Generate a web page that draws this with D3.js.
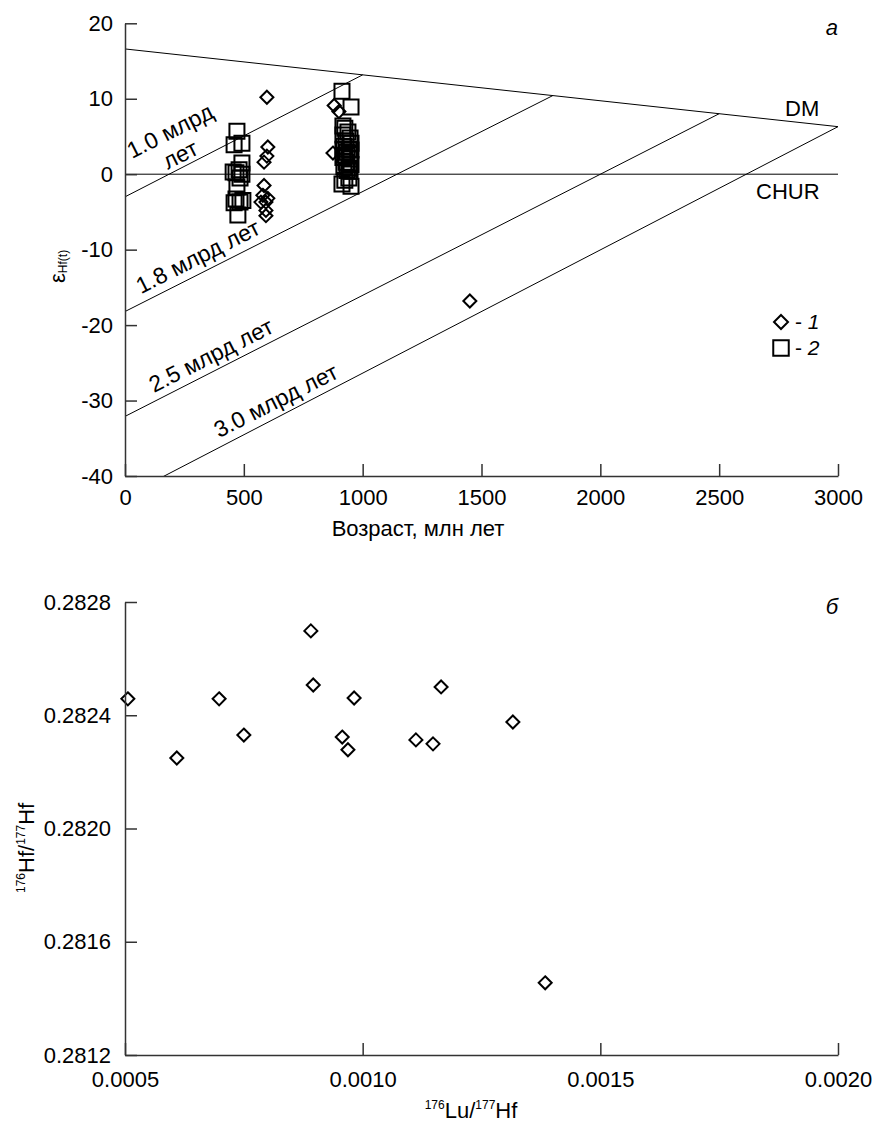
<!DOCTYPE html>
<html>
<head>
<meta charset="utf-8">
<title>Hf isotopes</title>
<style>
  body {margin:0; background:#fff}
  text {font-family: "Liberation Sans", Arial, sans-serif; fill:#000}
  .axis path, .axis line {stroke:#333; stroke-width:1.5}
  .axis text {font-size:22px; fill:#000}
  .ref {stroke:#000; stroke-width:1; fill:none}
  .mark {fill:none; stroke:#000; stroke-width:2}
</style>
</head>
<body>
<script src="https://cdn.jsdelivr.net/npm/d3@7"></script>
<script>
// ---- panel a: eHf(t) vs age ----
const ageTicks = [0, 500, 1000, 1500, 2000, 2500, 3000]
const epsTicks = [-40, -30, -20, -10, 0, 10, 20]

// series 1 (diamonds): age, Ma / eHf(t)
const dAge = [597, 601, 597, 585, 585, 580, 572, 593, 601, 593, 593, 880, 900, 875, 1451]
const dEps = [10.2, 3.6, 2.4, 1.6, -1.5, -2.8, -3.7, -3.7, -3.2, -4.8, -5.5, 9.1, 8.3, 2.8, -16.8]

// series 2 (squares)
const sAge = [471, 492, 459, 492, 480, 467, 492, 455, 484, 471, 467, 484, 459, 496, 475,
              913, 951, 917, 925, 938, 917, 947, 930, 951, 921, 942, 934, 947, 917, 947,
              930, 951, 921, 942, 934, 947, 917, 951, 925, 913, 951, 925, 942]
const sEps = [5.7, 4.1, 3.9, 1.5, 0.6, 0.2, 0.0, 0.3, -0.5, -1.7, -3.3, -3.7, -3.8, -3.5, -5.4,
              11.0, 8.9, 6.4, 6.1, 5.6, 5.2, 4.8, 4.4, 4.1, 3.7, 3.3, 2.9, 2.6, 2.2, 2.0,
              1.6, 1.3, 1.0, 0.8, 0.5, 0.4, 3.3, 3.2, 2.5, -1.3, -1.6, -0.8, -0.5]

// reference lines
const dmAge = [0, 3000], dmEps = [16.6, 6.3]
const churAge = [0, 3000], churEps = [0, 0]
const modelName = ['1.8 млрд лет', '2.5 млрд лет', '3.0 млрд лет']
const modelAge = [1000, 1800, 2500, 3000]   // where each line meets DM
const modelEps0 = [-3.0, -18.2, -32.1, -42.7] // value at age 0

// label anchors (age, eps)
const modelLabAge = [67, 122, 395]
const modelLabEps = [-15.9, -29.0, -35.0]

// ---- panel b: 176Hf/177Hf vs 176Lu/177Hf ----
const luTicks = [0.0005, 0.0010, 0.0015, 0.0020]
const hfTicks = [0.2812, 0.2816, 0.2820, 0.2824, 0.2828]
const luHf = [0.000506, 0.000609, 0.000698, 0.000750, 0.000891, 0.000896, 0.000957,
              0.000969, 0.000982, 0.001112, 0.001148, 0.001165, 0.001316, 0.001384]
const hfHf = [0.282458, 0.282249, 0.282458, 0.282330, 0.282698, 0.282507, 0.282323,
              0.282278, 0.282461, 0.282313, 0.282299, 0.282500, 0.282376, 0.281455]

const W = 883, H = 1124
const svg = d3.select('body').append('svg').attr('width', W).attr('height', H)

const diamond = d3.symbol().type(d3.symbolDiamond2).size(108)
const square = d3.symbol().type(d3.symbolSquare).size(225)

// ===== panel a =====
const x = d3.scaleLinear().domain([0, 3000]).range([125, 838])
const y = d3.scaleLinear().domain([-40, 20]).range([476, 23.3])

svg.append('clipPath').attr('id', 'clipA').append('rect')
  .attr('x', 125).attr('y', 23.3).attr('width', 713).attr('height', 476 - 23.3)

const ga = svg.append('g').attr('clip-path', 'url(#clipA)')
const line = d3.line().x(d => x(d[0])).y(d => y(d[1]))

ga.append('path').attr('class', 'ref').attr('d', line(d3.zip(dmAge, dmEps)))
ga.append('path').attr('class', 'ref').attr('d', line(d3.zip(churAge, churEps)))

const dmAt = t => dmEps[0] + (dmEps[1] - dmEps[0]) * t / 3000
modelAge.forEach((t, i) => {
  ga.append('path').attr('class', 'ref')
    .attr('d', line([[0, modelEps0[i]], [t, dmAt(t)]]))
})

const ang = Math.atan2(y(dmAt(1800)) - y(modelEps0[1]), x(1800) - x(0)) * 180 / Math.PI

modelName.forEach((s, i) => {
  svg.append('text')
    .attr('transform', `translate(${x(modelLabAge[i])},${y(modelLabEps[i])}) rotate(${ang})`)
    .attr('font-size', 23).text(s)
})
svg.append('text')
  .attr('transform', `translate(${x(29)},${y(2.0)}) rotate(${ang})`)
  .attr('font-size', 23).text('1.0 млрд')
svg.append('text')
  .attr('transform', `translate(${x(180)},${y(0.6)}) rotate(${ang})`)
  .attr('font-size', 23).text('лет')

svg.append('text').attr('x', 785).attr('y', 116).attr('font-size', 22).text('DM')
svg.append('text').attr('x', 756).attr('y', 199).attr('font-size', 22).text('CHUR')
svg.append('text').attr('x', 838).attr('y', 35).attr('text-anchor', 'end')
  .attr('font-size', 22).attr('font-style', 'italic').text('а')

svg.append('g').selectAll('path').data(d3.zip(sAge, sEps)).join('path')
  .attr('class', 'mark').attr('d', square)
  .attr('transform', d => `translate(${x(d[0])},${y(d[1])})`)
svg.append('g').selectAll('path').data(d3.zip(dAge, dEps)).join('path')
  .attr('class', 'mark').attr('d', diamond)
  .attr('transform', d => `translate(${x(d[0])},${y(d[1])})`)

const fmtInt = d => String(d)
svg.append('g').attr('class', 'axis').attr('transform', 'translate(0,476)')
  .call(d3.axisBottom(x).tickValues(ageTicks).tickFormat(fmtInt).tickSizeInner(-12).tickSizeOuter(0).tickPadding(13))
svg.append('g').attr('class', 'axis').attr('transform', 'translate(125,0)')
  .call(d3.axisLeft(y).tickValues(epsTicks).tickFormat(fmtInt).tickSizeInner(-12).tickSizeOuter(0).tickPadding(12))

svg.append('text').attr('x', 418).attr('y', 536).attr('text-anchor', 'middle')
  .attr('font-size', 22).text('Возраст, млн лет')

const yl = svg.append('text').attr('transform', 'translate(65,283) rotate(-90)')
yl.append('tspan').attr('font-size', 22).text('ε')
yl.append('tspan').attr('font-size', 12).attr('dy', 2).text('Hf(t)')

// legend
svg.append('path').attr('class', 'mark').attr('d', d3.symbol().type(d3.symbolDiamond2).size(125)())
  .attr('transform', 'translate(781,322)')
svg.append('path').attr('class', 'mark').attr('d', d3.symbol().type(d3.symbolSquare).size(240)())
  .attr('transform', 'translate(781,348)')
const l1 = svg.append('text').attr('x', 795).attr('y', 329).attr('font-size', 21)
l1.append('tspan').text('- ')
l1.append('tspan').attr('font-style', 'italic').text('1')
const l2 = svg.append('text').attr('x', 795).attr('y', 355).attr('font-size', 21)
l2.append('tspan').text('- ')
l2.append('tspan').attr('font-style', 'italic').text('2')

// ===== panel b =====
const xb = d3.scaleLinear().domain([0.0005, 0.0020]).range([125, 838])
const yb = d3.scaleLinear().domain([0.2812, 0.2828]).range([1055, 602])

svg.append('g').selectAll('path').data(d3.zip(luHf, hfHf)).join('path')
  .attr('class', 'mark').attr('d', diamond)
  .attr('transform', d => `translate(${xb(d[0])},${yb(d[1])})`)

svg.append('g').attr('class', 'axis').attr('transform', 'translate(0,1055)')
  .call(d3.axisBottom(xb).tickValues(luTicks).tickFormat(d3.format('.4f')).tickSizeInner(-12).tickSizeOuter(0).tickPadding(16))
svg.append('g').attr('class', 'axis').attr('transform', 'translate(125,0)')
  .call(d3.axisLeft(yb).tickValues(hfTicks).tickFormat(d3.format('.4f')).tickSizeInner(-12).tickSizeOuter(0).tickPadding(14))

svg.append('text').attr('x', 838).attr('y', 614).attr('text-anchor', 'end')
  .attr('font-size', 22).attr('font-style', 'italic').text('б')

const xt = svg.append('text').attr('x', 471).attr('y', 1118).attr('text-anchor', 'middle').attr('font-size', 22)
xt.append('tspan').attr('font-size', 12).attr('dy', -9).text('176')
xt.append('tspan').attr('dy', 9).text('Lu/')
xt.append('tspan').attr('font-size', 12).attr('dy', -9).text('177')
xt.append('tspan').attr('dy', 9).text('Hf')

const ytb = svg.append('text').attr('transform', 'translate(34,893) rotate(-90)').attr('font-size', 22)
ytb.append('tspan').attr('font-size', 12).attr('dy', -9).text('176')
ytb.append('tspan').attr('dy', 9).text('Hf/')
ytb.append('tspan').attr('font-size', 12).attr('dy', -9).text('177')
ytb.append('tspan').attr('dy', 9).text('Hf')
</script>
</body>
</html>
